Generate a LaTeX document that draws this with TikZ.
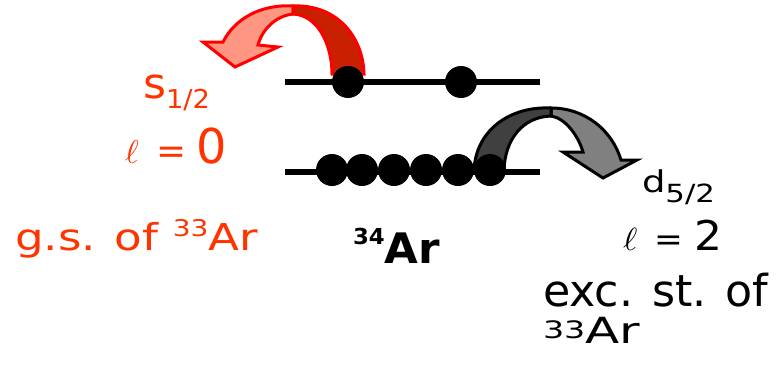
\documentclass[tikz,border=0pt]{standalone}
\usepackage{fontspec}
\setmainfont{DejaVu Sans}
\usepackage{graphicx}
\definecolor{txtred}{RGB}{255,51,0}
\definecolor{arrred}{RGB}{255,0,0}
\definecolor{darkred}{RGB}{200,32,0}
\definecolor{lightred}{RGB}{255,150,130}
\definecolor{darkgr}{RGB}{64,64,64}
\definecolor{lightgr}{RGB}{128,128,128}
\newcommand\fs[1]{\fontsize{#1}{#1}\selectfont}
\newcommand\fitw[2]{\resizebox{#1pt}{\height}{#2}}
\begin{document}
\begin{tikzpicture}[x=1pt,y=-1pt,
  lvl/.style={line width=6pt,black},
  ball/.style={circle,fill=black,draw=none,minimum size=32pt,inner sep=0pt},
  lbl/.style={anchor=base west,inner sep=0pt,outer sep=0pt},
  redarr/.style={draw=arrred,line width=3pt,line join=miter},
  grayarr/.style={draw=black,line width=3pt,line join=miter}]
\useasboundingbox (0,0) rectangle (780,367);
% red curved arrow (upper level)
\path[redarr,fill=lightred] (293,6) .. controls (262,4) and (235,18) .. (223,42) -- (203,42) -- (235,67) -- (278,47) -- (258,45) .. controls (262,30) and (275,16) .. (293,14) -- cycle;
\path[redarr,fill=darkred] (293,6) .. controls (335,4) and (363,35) .. (364,74) -- (332,74) .. controls (332,45) and (318,15) .. (293,14) -- cycle;
% gray curved arrow (lower level)
\path[grayarr,fill=lightgr] (551,108) .. controls (585,108) and (612,130) .. (621,160) -- (637,160) -- (603,178) -- (563,152) -- (583,152) .. controls (578,135) and (565,118) .. (551,116) -- cycle;
\path[grayarr,fill=darkgr] (474,170) .. controls (476,130) and (510,106) .. (551,108) -- (551,116) .. controls (522,117) and (505,140) .. (504,170) -- cycle;
% levels
\coordinate (t0) at (285,82);
\coordinate (t1) at (540,82);
\coordinate (b0) at (285,172);
\coordinate (b1) at (540,172);
\draw[lvl] (t0) -- (t1);
\draw[lvl] (b0) -- (b1);
% nucleons
\node[ball] (u1) at (348,82) {};
\node[ball] (u2) at (461,82) {};
\node[ball] (l1) at (332,170) {};
\node[ball] (l2) at (362,170) {};
\node[ball] (l3) at (394,170) {};
\node[ball] (l4) at (426,170) {};
\node[ball] (l5) at (458,170) {};
\node[ball] (l6) at (490,170) {};
% labels
\node[lbl,txtred] (s12) at (143,98) {\fitw{67}{\fs{42}s\raisebox{-10pt}{\fs{26}1/2}}};
\node[lbl,txtred] (l0) at (125,163) {\fitw{102}{\scalebox{3.3}{$\ell$}\hspace{18pt}\fs{36}=\hspace{10pt}\fs{48}0}};
\node[lbl,txtred] (gs) at (15,250) {\fitw{243}{\fs{37}g.s. of \raisebox{14pt}{\fs{23}33}Ar}};
\node[lbl] (ar34) at (353,263) {\fitw{87}{\bfseries\raisebox{19pt}{\fs{22}34}\fs{42}Ar}};
\node[lbl] (d52) at (642,192) {\fitw{73}{\fs{30}d\raisebox{-10pt}{\fs{25}5/2}}};
\node[lbl] (l2) at (623,250) {\fitw{99}{\scalebox{3.2}{$\ell$}\hspace{16pt}\fs{32}=\hspace{10pt}\fs{41}2}};
\node[lbl] (exc) at (543,306) {\fitw{225}{\fs{44}exc. st. of}};
\node[lbl] (ar33) at (543,343) {\fitw{97}{\raisebox{5pt}{\fs{24}33}\fs{36}Ar}};
\end{tikzpicture}
\end{document}
